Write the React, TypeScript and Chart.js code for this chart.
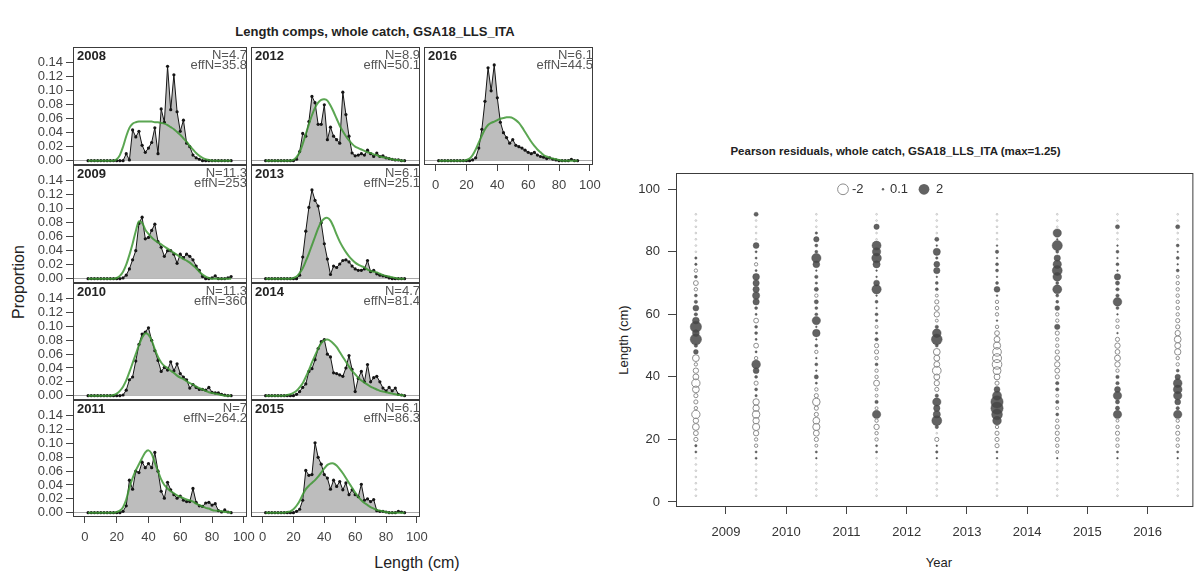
import React, { useEffect, useRef } from "react";
import { Chart, registerables } from "chart.js";
Chart.register(...registerables);

const FONT = "'Liberation Sans', Arial, Helvetica, sans-serif";

// ---------------- data ----------------
const LENGTH_BINS = [2,4,6,8,10,12,14,16,18,20,22,24,26,28,30,32,34,36,38,40,42,44,46,48,50,52,54,56,58,60,62,64,66,68,70,72,74,76,78,80,82,84,86,88,90,92];
const LENGTH_TICKS = [0, 20, 40, 60, 80, 100];
const PROP_TICKS = [0, 0.02, 0.04, 0.06, 0.08, 0.1, 0.12, 0.14];

const PANEL_YEARS = [2008, 2009, 2010, 2011, 2012, 2013, 2014, 2015, 2016];
const N_VALUES = ["4.7", "11.3", "11.3", "7", "8.9", "6.1", "4.7", "6.1", "6.1"];
const EFFN_VALUES = ["35.8", "253", "360", "264.2", "50.1", "25.1", "81.4", "86.3", "44.5"];

const obs2008 = [0,0,0,0,0,0,0,0,0,0, 0,0,0.01,0.001,0.044,0.034,0.042,0.022,0.012,0.018, 0.026,0.047,0.01,0.074,0.055,0.135,0.073,0.123,0.07,0.042, 0.058,0.025,0.02,0.008,0.004,0.002,0,0,0,0, 0,0,0,0,0,0];
const exp2008 = [0,0,0,0,0,0,0,0,0,0.002, 0.008,0.02,0.035,0.047,0.053,0.055,0.056,0.056,0.056,0.056, 0.056,0.055,0.055,0.054,0.053,0.051,0.048,0.045,0.041,0.037, 0.032,0.027,0.021,0.016,0.011,0.007,0.004,0.002,0.001,0, 0,0,0,0,0,0];
const obs2009 = [0,0,0,0,0,0,0,0,0,0, 0,0.001,0.005,0.014,0.027,0.04,0.079,0.088,0.057,0.059, 0.069,0.078,0.053,0.045,0.032,0.04,0.04,0.035,0.022,0.035, 0.03,0.035,0.032,0.027,0.018,0.012,0.003,0,0,0.001, 0.004,0,0,0,0.001,0.003];
const exp2009 = [0,0,0,0,0,0,0,0,0,0.001, 0.004,0.01,0.02,0.034,0.05,0.068,0.082,0.08,0.07,0.064, 0.059,0.055,0.052,0.049,0.046,0.043,0.04,0.037,0.034,0.031, 0.028,0.026,0.023,0.019,0.015,0.01,0.006,0.003,0.001,0, 0,0,0,0,0,0];
const obs2010 = [0,0,0,0,0,0,0,0,0,0, 0,0.001,0.008,0.023,0.027,0.05,0.074,0.089,0.092,0.098, 0.08,0.065,0.051,0.035,0.041,0.037,0.049,0.036,0.046,0.032, 0.027,0.023,0.011,0.016,0.012,0.009,0.009,0.008,0.012,0.005, 0.004,0.004,0.002,0.001,0,0];
const exp2010 = [0,0,0,0,0,0,0,0,0.001,0.003, 0.007,0.013,0.022,0.034,0.047,0.06,0.073,0.084,0.09,0.088, 0.08,0.067,0.056,0.048,0.043,0.04,0.036,0.033,0.029,0.026, 0.024,0.021,0.018,0.016,0.013,0.011,0.009,0.007,0.005,0.004, 0.003,0.002,0.001,0,0,0];
const obs2011 = [0,0,0,0,0,0,0,0,0,0, 0,0.002,0.01,0.047,0.034,0.06,0.058,0.073,0.065,0.071, 0.065,0.087,0.06,0.031,0.021,0.044,0.033,0.026,0.021,0.024, 0.018,0.016,0.016,0.035,0.015,0.01,0.009,0.014,0.015,0.011, 0.013,0.003,0.001,0.004,0.001,0];
const exp2011 = [0,0,0,0,0,0,0,0,0,0.001, 0.003,0.008,0.019,0.036,0.05,0.061,0.07,0.079,0.087,0.09, 0.085,0.072,0.06,0.048,0.04,0.035,0.031,0.028,0.025,0.023, 0.021,0.019,0.018,0.016,0.013,0.011,0.009,0.007,0.006,0.004, 0.003,0.003,0.002,0.001,0.001,0];
const obs2012 = [0,0,0,0,0,0,0,0,0,0, 0.002,0.013,0.039,0.035,0.056,0.092,0.083,0.052,0.052,0.08, 0.03,0.048,0.035,0.03,0.025,0.098,0.066,0.035,0.011,0.007, 0.008,0.01,0.008,0.015,0.01,0.006,0.011,0.006,0.007,0.004, 0.003,0.002,0.001,0.001,0,0];
const exp2012 = [0,0,0,0,0,0,0,0,0,0.001, 0.005,0.012,0.024,0.038,0.052,0.065,0.076,0.083,0.087,0.088, 0.086,0.079,0.07,0.06,0.05,0.042,0.035,0.029,0.024,0.02, 0.018,0.016,0.014,0.012,0.011,0.009,0.008,0.006,0.005,0.004, 0.003,0.002,0.001,0.001,0,0];
const obs2013 = [0,0,0,0,0,0,0,0,0,0, 0,0.005,0.031,0.068,0.102,0.127,0.112,0.104,0.08,0.05, 0.028,0.006,0.018,0.016,0.021,0.026,0.027,0.024,0.018,0.014, 0.012,0.012,0.014,0.026,0.01,0.012,0.007,0.005,0.004,0.003, 0.001,0,0,0,0,0];
const exp2013 = [0,0,0,0,0,0,0,0,0,0.001, 0.003,0.008,0.015,0.025,0.036,0.048,0.06,0.072,0.081,0.086, 0.087,0.083,0.074,0.063,0.053,0.045,0.038,0.032,0.027,0.023, 0.02,0.018,0.016,0.013,0.011,0.01,0.009,0.007,0.005,0.004, 0.003,0.002,0.001,0,0,0];
const obs2014 = [0,0,0,0,0,0,0,0,0,0, 0.002,0.006,0.012,0.017,0.035,0.039,0.052,0.068,0.078,0.081, 0.06,0.056,0.033,0.032,0.03,0.028,0.04,0.058,0.038,0.006, 0.025,0.035,0.02,0.045,0.02,0.026,0.028,0.02,0.011,0.007, 0.012,0.007,0.011,0.002,0.001,0];
const exp2014 = [0,0,0,0,0,0,0,0.001,0.002,0.004, 0.007,0.012,0.018,0.027,0.037,0.048,0.058,0.068,0.076,0.08, 0.081,0.079,0.075,0.07,0.063,0.056,0.049,0.042,0.036,0.031, 0.026,0.022,0.019,0.016,0.013,0.011,0.009,0.007,0.006,0.005, 0.004,0.003,0.002,0.001,0.001,0];
const obs2015 = [0,0,0,0,0,0,0,0,0,0, 0.002,0.005,0.018,0.061,0.054,0.055,0.101,0.08,0.07,0.055, 0.05,0.034,0.047,0.038,0.045,0.033,0.043,0.026,0.033,0.026, 0.023,0.041,0.018,0.02,0.016,0.019,0.003,0.002,0.002,0.001, 0,0,0,0.002,0.001,0];
const exp2015 = [0,0,0,0,0,0,0,0.001,0.002,0.005, 0.01,0.017,0.026,0.034,0.039,0.043,0.047,0.052,0.058,0.064, 0.069,0.071,0.071,0.068,0.063,0.057,0.05,0.043,0.036,0.029, 0.023,0.018,0.014,0.011,0.008,0.006,0.004,0.003,0.002,0.001, 0,0,0,0,0,0];
const obs2016 = [0,0,0,0,0,0,0,0,0,0, 0,0.001,0.004,0.018,0.045,0.085,0.133,0.1,0.137,0.09, 0.055,0.04,0.033,0.025,0.03,0.022,0.02,0.018,0.015,0.012, 0.01,0.012,0.008,0.006,0.005,0.003,0.004,0.002,0.001,0, 0,0,0,0.002,0,0];
const exp2016 = [0,0,0,0,0,0,0,0,0,0.001, 0.003,0.008,0.016,0.026,0.036,0.045,0.051,0.054,0.056,0.058, 0.06,0.061,0.062,0.062,0.061,0.058,0.054,0.048,0.041,0.034, 0.027,0.021,0.016,0.012,0.008,0.006,0.004,0.003,0.002,0.001, 0,0,0,0,0,0];

const OBS = [obs2008, obs2009, obs2010, obs2011, obs2012, obs2013, obs2014, obs2015, obs2016];
const EXP = [exp2008, exp2009, exp2010, exp2011, exp2012, exp2013, exp2014, exp2015, exp2016];

// Pearson residuals by year, one value per length bin (2..92 cm)
const RES_YEARS = [2008, 2009, 2010, 2011, 2012, 2013, 2014, 2015, 2016];
const RES_X_TICKS = [2009, 2010, 2011, 2012, 2013, 2014, 2015, 2016];
const RES_Y_TICKS = [0, 20, 40, 60, 80, 100];
const LEGEND_VALUES = [-2, 0.1, 2];

const res2008 = [-0.05,-0.05,-0.05,-0.05,-0.05,-0.05,-0.05,0.08,0.1,-0.3, -0.4,-0.8,-0.5,-1.2,-0.2,-0.3,-0.3,-0.8,-1.2,-0.6, -0.5,-0.2,-0.8,0.4,0.2,2.2,0.8,2.2,0.8,0.2, 0.6,0.2,0.15,-0.2,-0.4,0.15,-0.2,0.1,0.1,-0.05, -0.05,-0.05,-0.05,-0.05,-0.05,-0.05];
const res2009 = [-0.05,-0.05,-0.05,-0.05,-0.05,-0.05,0.08,0.08,-0.2,-0.2, -0.5,-0.9,-0.7,-1.0,-0.7,-0.7,0.1,0.15,-0.3,0.15, 0.6,1.3,-0.2,0.08,-0.4,0.08,0.15,0.15,-0.4,0.08, 0.15,0.7,0.9,0.7,0.7,0.8,0.08,-0.2,0.08,0.08, 0.6,-0.05,-0.05,-0.05,-0.05,0.3];
const res2010 = [-0.05,-0.05,-0.05,-0.05,-0.05,-0.05,0.05,0.08,-0.15,-0.3, -0.6,-0.9,-0.8,-0.3,-0.3,-1.0,-0.3,-0.2,0.08,0.3, 0.05,0.15,0.05,-0.2,0.15,0.05,1.0,0.05,1.2,0.15, 0.15,0.3,-0.2,0.3,0.1,0.2,0.05,0.8,1.5,0.15, 0.15,0.5,0.1,-0.05,-0.05,-0.05];
const res2011 = [-0.05,-0.05,-0.05,-0.05,-0.05,-0.05,-0.05,0.08,0.08,-0.2, -0.2,-0.5,-0.2,1.2,-0.15,0.2,-0.15,-0.15,-0.6,-0.2, -0.2,0.15,-0.2,-0.3,-0.3,0.2,0.1,-0.15,0.1,0.15, 0.05,0.15,0.05,1.5,0.6,0.05,0.05,0.9,1.6,1.2, 1.4,-0.05,-0.05,0.5,-0.05,-0.05];
const res2012 = [-0.05,-0.05,-0.05,-0.05,-0.05,-0.05,0.05,0.1,0.05,-0.3, -0.05,0.2,1.7,0.9,0.7,1.2,0.2,-0.3,-0.5,-0.6, -1.3,-0.6,-0.6,-0.8,0.15,2.0,1.3,0.2,-0.15,-0.5, -0.4,-0.3,-0.15,0.15,0.15,0.05,0.7,0.6,0.1,0.9, 0.05,0.3,-0.05,-0.05,-0.05,-0.05];
const res2013 = [-0.05,-0.05,-0.05,-0.05,-0.05,-0.05,0.05,0.08,-0.3,-0.3, -0.3,-0.2,1.3,2.0,2.6,2.6,1.4,0.6,-0.3,-0.6, -1.1,-1.6,-1.4,-1.3,-0.9,-0.6,-0.4,-0.2,0.05,-0.2, -0.2,-0.2,0.05,0.6,0.15,0.05,0.15,0.15,0.05,0.2, 0.05,-0.05,-0.05,-0.05,-0.05,-0.05];
const res2014 = [-0.05,-0.05,-0.05,-0.05,-0.05,-0.05,0.05,-0.15,-0.2,-0.3, -0.3,-0.3,-0.2,0.15,-0.15,0.2,-0.15,0.2,0.2,-0.3, -0.4,-0.5,-0.4,-0.3,-0.2,-0.2,-0.3,0.5,-0.2,-0.2, 0.4,0.15,0.15,1.4,0.15,1.3,1.7,1.2,0.7,0.15, 1.8,0.05,1.2,-0.05,-0.05,-0.05];
const res2015 = [-0.05,-0.05,-0.05,-0.05,-0.05,-0.05,0.05,0.08,-0.2,-0.2, -0.3,-0.2,-0.15,1.2,0.3,0.3,1.2,0.6,0.2,0.2, -0.2,-0.5,-0.6,-0.4,-0.5,-0.3,0.05,-0.2,-0.2,0.05, 0.15,1.3,0.2,0.2,0.3,0.7,0.05,0.15,0.05,0.15, 0.05,-0.05,-0.05,0.3,-0.05,-0.05];
const res2016 = [-0.05,-0.05,-0.05,-0.05,-0.05,-0.05,0.05,0.08,-0.2,-0.2, -0.3,-0.2,-0.2,1.2,0.2,0.6,1.2,1.3,1.3,0.5, 0.15,-0.2,-0.2,-0.7,-0.6,-0.8,-0.5,-0.3,-0.3,-0.2, -0.2,-0.2,-0.2,-0.2,-0.2,-0.15,0.15,0.05,0.15,0.05, 0.15,-0.05,-0.05,0.3,-0.05,-0.05];
const RES = [res2008, res2009, res2010, res2011, res2012, res2013, res2014, res2015, res2016];

// ---------------- layout ----------------
const COL_L = [73, 247, 420];
const COL_R = [247, 420, 593];
const ROW_T = [47, 165, 283, 400];
const ROW_B = [165, 283, 400, 517];
const PANEL_POS = [
  [0, 0], [0, 1], [0, 2], [0, 3],
  [1, 0], [1, 1], [1, 2], [1, 3],
  [2, 0],
];
const PANEL_HAS_X = [false, false, false, true, false, false, false, true, true];

const bubbleRadius = (v: number) => 3.8 * Math.sqrt(Math.abs(v));

const zeroPad = (s: any) => {
  s.paddingLeft = 0;
  s.paddingRight = 0;
  s.paddingTop = 0;
  s.paddingBottom = 0;
};

const panelDecor = {
  id: "panelDecor",
  afterDraw(chart: any, _args: any, opts: any) {
    const { ctx, chartArea: a } = chart;
    ctx.save();
    ctx.strokeStyle = "#3c3c3c";
    ctx.lineWidth = 1;
    ctx.strokeRect(a.left + 0.5, a.top + 0.5, a.right - a.left - 1, a.bottom - a.top - 1);
    ctx.textBaseline = "middle";
    ctx.textAlign = "left";
    ctx.fillStyle = "#222";
    ctx.font = `bold 13px ${FONT}`;
    ctx.fillText(String(opts.year), a.left + 4, a.top + 9);
    ctx.font = `13px ${FONT}`;
    ctx.fillStyle = "#555";
    ctx.textAlign = "right";
    ctx.fillText("N=" + opts.n, a.right, a.top + 8);
    ctx.fillText("effN=" + opts.effN, a.right, a.top + 18.5);
    ctx.restore();
  },
};

function CompPanel({ idx }: { idx: number }) {
  const ref = useRef<HTMLCanvasElement>(null);
  const [col, row] = PANEL_POS[idx];
  const showY = col === 0;
  const showX = PANEL_HAS_X[idx];
  const padL = showY ? COL_L[0] : 0;
  const padR = 18;
  const padT = 9;
  const padB = showX ? 40 : 9;
  const pw = COL_R[col] - COL_L[col];
  const ph = ROW_B[row] - ROW_T[row];
  const w = pw + padL + padR;
  const h = ph + padT + padB;
  const left = COL_L[col] - padL;
  const top = ROW_T[row] - padT;

  useEffect(() => {
    const obs = OBS[idx];
    const exp = EXP[idx];
    const chart = new Chart(ref.current as HTMLCanvasElement, {
      type: "line",
      data: {
        datasets: [
          {
            data: LENGTH_BINS.map((x, i) => ({ x, y: exp[i] })),
            borderColor: "rgba(62,150,52,0.85)",
            borderWidth: 2,
            pointRadius: 0,
            fill: false,
            order: 0,
            tension: 0.3,
          },
          {
            data: LENGTH_BINS.map((x, i) => ({ x, y: obs[i] })),
            borderColor: "#151515",
            borderWidth: 1,
            backgroundColor: "#bdbdbd",
            fill: "origin",
            pointRadius: 1.6,
            pointBackgroundColor: "#151515",
            pointBorderWidth: 0,
            order: 1,
            tension: 0,
          },
        ],
      } as any,
      plugins: [panelDecor],
      options: {
        animation: false,
        responsive: false,
        maintainAspectRatio: false,
        events: [],
        layout: { padding: { left: 0, right: padR, top: padT, bottom: showX ? 0 : padB } },
        plugins: {
          legend: { display: false },
          tooltip: { enabled: false },
          panelDecor: { year: PANEL_YEARS[idx], n: N_VALUES[idx], effN: EFFN_VALUES[idx] },
        } as any,
        scales: {
          x: {
            type: "linear",
            min: -7.5,
            max: 102,
            display: showX,
            afterBuildTicks: (s: any) => {
              s.ticks = LENGTH_TICKS.map((v) => ({ value: v }));
            },
            afterFit: (s: any) => {
              s.height = showX ? padB : 0;
              zeroPad(s);
            },
            grid: { display: true, drawOnChartArea: false, drawTicks: true, tickLength: 6, color: "#444" },
            border: { display: false },
            ticks: {
              padding: 7,
              color: "#444",
              font: { family: FONT, size: 13 },
              maxRotation: 0,
              autoSkip: false,
              callback: (v: any) => String(v),
            },
          },
          y: {
            type: "linear",
            min: -0.0062,
            max: 0.1627,
            display: true,
            afterBuildTicks: (s: any) => {
              s.ticks = PROP_TICKS.map((v) => ({ value: v }));
            },
            afterFit: (s: any) => {
              s.width = padL;
              zeroPad(s);
            },
            grid: {
              drawOnChartArea: true,
              drawTicks: showY,
              tickLength: 7,
              color: (c: any) => (c.tick && c.tick.value === 0 ? "#a8a8a8" : "rgba(0,0,0,0)"),
              tickColor: "#444",
            },
            border: { display: false },
            ticks: {
              display: showY,
              autoSkip: false,
              padding: 3,
              color: "#444",
              font: { family: FONT, size: 13 },
              callback: (v: any) => Number(v).toFixed(2),
            },
          },
        },
      } as any,
    });
    return () => chart.destroy();
  }, []);

  return (
    <canvas
      ref={ref}
      width={w}
      height={h}
      style={{ position: "absolute", left, top, width: w, height: h }}
    />
  );
}

const residualDecor = {
  id: "residualDecor",
  afterDraw(chart: any) {
    const { ctx, chartArea: a } = chart;
    ctx.save();
    ctx.strokeStyle = "#3c3c3c";
    ctx.lineWidth = 1;
    ctx.strokeRect(a.left + 0.5, a.top + 0.5, a.right - a.left - 1, a.bottom - a.top - 1);
    // legend
    const y = a.top + 16.3;
    ctx.font = `13px ${FONT}`;
    ctx.textBaseline = "middle";
    ctx.textAlign = "left";
    ctx.fillStyle = "#333";
    const [vNeg, vSmall, vPos] = LEGEND_VALUES;
    const x0 = a.left + 167;
    ctx.beginPath();
    ctx.arc(x0, y, bubbleRadius(vNeg), 0, Math.PI * 2);
    ctx.strokeStyle = "#8c8c8c";
    ctx.stroke();
    ctx.fillText(String(vNeg), x0 + 9, y);
    ctx.beginPath();
    ctx.arc(x0 + 40, y, bubbleRadius(vSmall), 0, Math.PI * 2);
    ctx.fillStyle = "rgba(70,70,70,0.85)";
    ctx.fill();
    ctx.fillStyle = "#333";
    ctx.fillText(String(vSmall), x0 + 47, y);
    ctx.beginPath();
    ctx.arc(x0 + 81, y, bubbleRadius(vPos), 0, Math.PI * 2);
    ctx.fillStyle = "rgba(70,70,70,0.85)";
    ctx.fill();
    ctx.fillStyle = "#333";
    ctx.fillText(String(vPos), x0 + 93, y);
    ctx.restore();
  },
};

function ResidualChart() {
  const ref = useRef<HTMLCanvasElement>(null);
  const PAD_T = 12;
  const AREA_T = 173;
  const AREA_B = 507;
  const X_AXIS_H = 46;
  const W = 600;
  const H = PAD_T + (AREA_B - AREA_T) + X_AXIS_H;
  useEffect(() => {
    const pts: { x: number; y: number; v: number }[] = [];
    RES_YEARS.forEach((yr, k) => {
      RES[k].forEach((v, i) => pts.push({ x: yr + 0.5, y: LENGTH_BINS[i], v }));
    });
    const chart = new Chart(ref.current as HTMLCanvasElement, {
      type: "scatter",
      data: {
        datasets: [
          {
            data: pts.filter((p) => p.v < 0),
            pointRadius: (c: any) => bubbleRadius(c.raw.v),
            pointBackgroundColor: "rgba(255,255,255,0)",
            pointBorderColor: (c: any) => (Math.abs(c.raw.v) < 0.1 ? "#c4c4c4" : "#8c8c8c"),
            pointBorderWidth: 1,
          },
          {
            data: pts.filter((p) => p.v > 0),
            pointRadius: (c: any) => bubbleRadius(c.raw.v),
            pointBackgroundColor: "rgba(70,70,70,0.85)",
            pointBorderColor: "rgba(70,70,70,0.85)",
            pointBorderWidth: 0.5,
          },
        ],
      } as any,
      plugins: [residualDecor],
      options: {
        animation: false,
        responsive: false,
        maintainAspectRatio: false,
        events: [],
        layout: { padding: { left: 0, right: 3, top: PAD_T, bottom: 0 } },
        plugins: { legend: { display: false }, tooltip: { enabled: false } },
        scales: {
          x: {
            type: "linear",
            min: 2008.17,
            max: 2016.76,
            afterBuildTicks: (s: any) => {
              s.ticks = RES_X_TICKS.map((v) => ({ value: v }));
            },
            afterFit: (s: any) => {
              s.height = X_AXIS_H;
              zeroPad(s);
            },
            grid: { drawOnChartArea: false, drawTicks: true, tickLength: 7, color: "#444" },
            border: { display: false },
            ticks: {
              padding: 11,
              color: "#333",
              font: { family: FONT, size: 13 },
              maxRotation: 0,
              autoSkip: false,
              callback: (v: any) => String(v),
            },
          },
          y: {
            type: "linear",
            min: -1.6,
            max: 105.2,
            afterBuildTicks: (s: any) => {
              s.ticks = RES_Y_TICKS.map((v) => ({ value: v }));
            },
            afterFit: (s: any) => {
              s.width = 76;
              zeroPad(s);
            },
            grid: { drawOnChartArea: false, drawTicks: true, tickLength: 8, color: "#444" },
            border: { display: false },
            ticks: {
              padding: 8,
              autoSkip: false,
              color: "#333",
              font: { family: FONT, size: 13 },
              callback: (v: any) => String(v),
            },
          },
        },
      } as any,
    });
    return () => chart.destroy();
  }, []);
  return (
    <canvas
      ref={ref}
      width={W}
      height={H}
      style={{ position: "absolute", left: 600, top: AREA_T - PAD_T, width: W, height: H }}
    />
  );
}

const textBase: React.CSSProperties = {
  position: "absolute",
  fontFamily: FONT,
  color: "#222",
  whiteSpace: "nowrap",
  lineHeight: "1",
};

export default function App() {
  return (
    <div
      style={{
        position: "fixed",
        left: 0,
        top: 0,
        width: 1200,
        height: 573,
        background: "#fff",
        overflow: "hidden",
      }}
    >
      <div
        style={{
          ...textBase,
          left: 375,
          top: 31,
          transform: "translate(-50%, -50%)",
          fontWeight: "bold",
          fontSize: 13,
        }}
      >
        Length comps, whole catch, GSA18_LLS_ITA
      </div>
      <div
        style={{
          ...textBase,
          left: 19,
          top: 282,
          transform: "translate(-50%, -50%) rotate(-90deg)",
          fontSize: 16,
        }}
      >
        Proportion
      </div>
      <div
        style={{
          ...textBase,
          left: 417,
          top: 563,
          transform: "translate(-50%, -50%)",
          fontSize: 16,
        }}
      >
        Length (cm)
      </div>
      {PANEL_YEARS.map((_, i) => (
        <CompPanel key={i} idx={i} />
      ))}
      <div
        style={{
          ...textBase,
          left: 895.5,
          top: 152,
          transform: "translate(-50%, -50%)",
          fontWeight: "bold",
          fontSize: 11.5,
        }}
      >
        Pearson residuals, whole catch, GSA18_LLS_ITA (max=1.25)
      </div>
      <div
        style={{
          ...textBase,
          left: 623,
          top: 340,
          transform: "translate(-50%, -50%) rotate(-90deg)",
          fontSize: 13,
        }}
      >
        Length (cm)
      </div>
      <div
        style={{
          ...textBase,
          left: 939,
          top: 562,
          transform: "translate(-50%, -50%)",
          fontSize: 13,
        }}
      >
        Year
      </div>
      <ResidualChart />
    </div>
  );
}
